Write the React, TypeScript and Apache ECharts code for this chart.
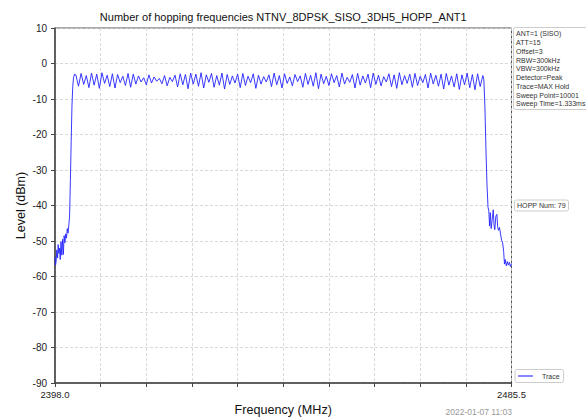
import React, { useEffect, useRef } from "react";
import * as echarts from "echarts";

const titleText = "Number of hopping frequencies NTNV_8DPSK_SISO_3DH5_HOPP_ANT1";
const yTicks = [10, 0, -10, -20, -30, -40, -50, -60, -70, -80, -90];
const xMin = 2398.0;
const xMax = 2485.5;
const xStep = 8.75;
const infoLines = [
  "ANT=1 (SISO)",
  "ATT=15",
  "Offset=3",
  "RBW=300kHz",
  "VBW=300kHz",
  "Detector=Peak",
  "Trace=MAX Hold",
  "Sweep Point=10001",
  "Sweep Time=1.333ms",
];
const hoppText = "HOPP Num: 79";
const dateText = "2022-01-07 11:03";

// lower band edge [MHz, dBm]
const leftEdge: [number, number][] = [
  [2398.0, -54.5], [2398.1, -56.8], [2398.2, -56.0], [2398.35, -52.5], [2398.5, -54.8],
  [2398.6, -51.0], [2398.75, -53.5], [2398.9, -52.0], [2399.0, -55.2], [2399.15, -50.2],
  [2399.3, -54.0], [2399.45, -49.5], [2399.6, -53.8], [2399.75, -48.5], [2399.9, -50.5],
  [2400.05, -48.0], [2400.2, -49.2], [2400.35, -46.5], [2400.5, -47.8], [2400.65, -45.5],
  [2400.8, -43.0], [2400.95, -33.0], [2401.1, -22.0], [2401.25, -12.0], [2401.4, -6.5],
  [2401.55, -4.0], [2401.75, -3.0],
];

// in-band hopping ripple, 2402.0 .. 2480.0 MHz every 0.5 MHz
const bandStart = 2402.0;
const bandStep = 0.5;
const bandLevels = [
  -3.2, -6.4, -2.8, -5.9, -3.4, -6.8, -2.7, -6.1, -3.0, -7.0, -2.6, -5.6, -3.3, -6.5, -2.9, -6.9, -3.1, -5.4, -3.6, -6.2,
  -2.8, -6.7, -3.0, -5.8, -3.5, -5.2, -4.0, -6.0, -3.2, -5.5, -3.8, -5.0, -4.2, -5.7, -3.4, -6.3, -3.9, -5.1, -3.3, -6.6,
  -2.9, -6.0, -3.1, -7.1, -2.7, -5.8, -3.0, -6.4, -2.6, -6.9, -3.2, -5.3, -2.8, -6.7, -3.4, -6.1, -2.7, -7.2, -3.1, -5.9,
  -3.5, -5.5, -3.0, -6.8, -2.8, -6.2, -3.6, -5.4, -2.9, -7.0, -3.3, -5.8, -3.7, -5.2, -3.2, -6.5, -2.7, -6.0, -3.4, -6.9,
  -2.9, -5.6, -3.8, -6.3, -3.1, -5.1, -3.5, -6.7, -2.8, -5.9, -3.3, -6.4, -2.6, -7.1, -3.0, -5.7, -3.6, -6.2, -2.9, -5.4,
  -3.4, -6.6, -2.7, -5.8, -3.9, -5.3, -3.1, -6.9, -2.8, -6.1, -3.5, -5.5, -3.0, -6.8, -2.7, -5.9, -3.3, -6.3, -3.7, -5.2,
  -2.9, -6.5, -3.2, -7.0, -2.6, -6.0, -3.4, -5.6, -3.0, -6.7, -2.8, -6.2, -3.6, -5.4, -3.1, -6.9, -2.7, -5.8, -3.3, -6.4,
  -3.0, -7.2, -2.8, -6.1, -3.5, -6.6, -2.9, -7.3, -3.2, -6.0, -2.7, -6.8, -3.1, -7.4, -2.9, -6.5, -3.4,
];

// upper band edge [MHz, dBm]
const rightEdge: [number, number][] = [
  [2480.2, -4.5], [2480.4, -12.0], [2480.6, -24.0], [2480.8, -34.0], [2481.0, -40.5],
  [2481.15, -41.5], [2481.3, -45.8], [2481.45, -42.0], [2481.6, -46.5], [2481.8, -44.0],
  [2482.0, -41.2], [2482.15, -45.5], [2482.3, -46.8], [2482.5, -43.0], [2482.7, -42.5],
  [2482.85, -46.0], [2483.0, -47.0], [2483.2, -46.2], [2483.4, -48.0], [2483.6, -49.8],
  [2483.8, -50.5], [2484.0, -53.0], [2484.15, -56.5], [2484.3, -55.2], [2484.5, -57.0],
  [2484.7, -55.8], [2484.9, -56.8], [2485.1, -56.0], [2485.3, -57.2], [2485.5, -56.4],
];

const FONT = "'Liberation Sans', Arial, sans-serif";

export default function App() {
  const ref = useRef<HTMLDivElement>(null);
  useEffect(() => {
    if (!ref.current) return;
    const chart = echarts.init(ref.current, null, { renderer: "svg" });
    const band: [number, number][] = bandLevels.map((v, i) => [bandStart + i * bandStep, v]);
    const data = [...leftEdge, ...band, ...rightEdge];
    const gL = 55, gR = 511.5, gT = 28, gB = 383;
    chart.setOption({
      animation: false,
      backgroundColor: "#ffffff",
      textStyle: { fontFamily: FONT },
      grid: {
        left: gL, top: gT, width: gR - gL, height: gB - gT,
        show: true, borderColor: "#555", borderWidth: 1, backgroundColor: "transparent",
      },
      legend: {
        left: 515, top: 369.5,
        data: [{ name: "Trace", icon: "rect" }],
        itemWidth: 15, itemHeight: 1.2, itemGap: 4,
        padding: [3, 4, 3, 3],
        borderColor: "#cccccc", borderWidth: 1, borderRadius: 2,
        backgroundColor: "#fff",
        textStyle: { fontSize: 7, color: "#333", fontFamily: FONT, padding: [0, 0, 0, 4] },
      },
      xAxis: {
        type: "value",
        min: xMin, max: xMax, interval: xStep,
        axisLine: { show: true, onZero: false, lineStyle: { color: "#444", width: 1.5 } },
        axisTick: { show: true, inside: false, length: 4, lineStyle: { color: "#444", width: 1 } },
        splitLine: { show: true, lineStyle: { color: "#cfcfcf", type: [3, 2], width: 0.8 } },
        axisLabel: {
          show: true, margin: 6, fontSize: 9.5, color: "#222", fontFamily: FONT,
          showMinLabel: true, showMaxLabel: true,
          formatter: (v: number) =>
            Math.abs(v - xMin) < 1e-6 || Math.abs(v - xMax) < 1e-6 ? v.toFixed(1) : "",
        },
      },
      yAxis: {
        type: "value",
        min: yTicks[yTicks.length - 1], max: yTicks[0], interval: 10,
        axisLine: { show: true, onZero: false, lineStyle: { color: "#444", width: 1.5 } },
        axisTick: { show: true, inside: false, length: 4, lineStyle: { color: "#444", width: 1 } },
        splitLine: { show: true, lineStyle: { color: "#cfcfcf", type: [3, 2], width: 0.8 } },
        axisLabel: { margin: 8, fontSize: 10, color: "#222", fontFamily: FONT },
      },
      series: [
        {
          name: "Trace",
          type: "line",
          data,
          showSymbol: false,
          symbol: "none",
          lineStyle: { color: "#2222ff", width: 0.9 },
          itemStyle: { color: "#3a3aff" },
        },
      ],
      graphic: [
        {
          type: "text", x: (gL + gR) / 2, y: 17,
          style: {
            text: titleText, fontSize: 11, fill: "#111", fontFamily: FONT,
            textAlign: "center", textVerticalAlign: "middle",
          },
        },
        {
          type: "text", x: 20.5, y: 205.5, rotation: Math.PI / 2,
          style: {
            text: "Level (dBm)", fontSize: 12.5, fill: "#111", fontFamily: FONT,
            textAlign: "center", textVerticalAlign: "middle",
          },
        },
        {
          type: "text", x: (gL + gR) / 2, y: 410,
          style: {
            text: "Frequency (MHz)", fontSize: 12.6, fill: "#111", fontFamily: FONT,
            textAlign: "center", textVerticalAlign: "middle",
          },
        },
        {
          type: "text", x: 512, y: 412,
          style: {
            text: dateText, fontSize: 8.5, fill: "#999", fontFamily: FONT,
            textAlign: "right", textVerticalAlign: "middle",
          },
        },
        {
          type: "rect",
          shape: { x: 513.5, y: 27.5, width: 85, height: 82, r: 2 },
          style: { fill: "#fff", stroke: "#cccccc", lineWidth: 1 },
        },
        {
          type: "text", x: 516, y: 29.5,
          style: {
            text: infoLines.join("\n"), fontSize: 7, lineHeight: 8.75, fill: "#333",
            fontFamily: FONT, textAlign: "left", textVerticalAlign: "top",
          },
        },
        {
          type: "rect",
          shape: { x: 514.5, y: 200, width: 54, height: 11, r: 2 },
          style: { fill: "#fff", stroke: "#cccccc", lineWidth: 1 },
        },
        {
          type: "text", x: 517, y: 205.8,
          style: {
            text: hoppText, fontSize: 7.1, fill: "#333", fontFamily: FONT,
            textAlign: "left", textVerticalAlign: "middle",
          },
        },
      ],
    });
    return () => chart.dispose();
  }, []);
  return (
    <div
      ref={ref}
      style={{ position: "fixed", left: 0, top: 0, width: 586, height: 419, background: "#fff" }}
    />
  );
}
